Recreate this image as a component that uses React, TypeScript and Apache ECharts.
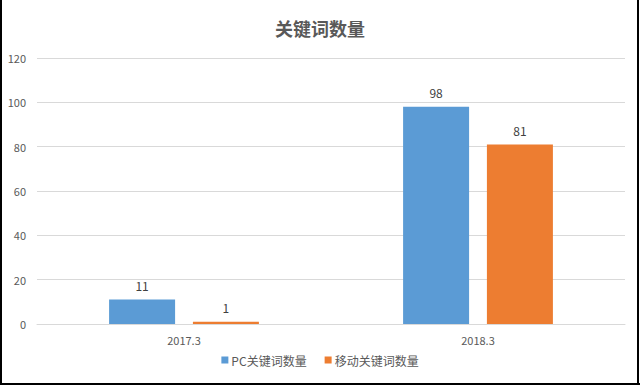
import React, { useEffect, useRef } from "react";
import * as echarts from "echarts";

const categories = ["2017.3", "2018.3"];
const pcValues = [11, 98];
const mobileValues = [1, 81];
const seriesNames = ["PC关键词数量", "移动关键词数量"];
const titleText = "关键词数量";

const FONT = "'Noto Sans CJK SC', 'Noto Sans', sans-serif";

export default function App() {
  const ref = useRef<HTMLDivElement>(null);
  useEffect(() => {
    if (!ref.current) return;
    const chart = echarts.init(ref.current, undefined, { renderer: "svg" });
    chart.setOption({
      animation: false,
      backgroundColor: "#ffffff",
      textStyle: { fontFamily: FONT },
      title: {
        text: titleText,
        left: "center",
        top: 14,
        textStyle: { fontSize: 18, fontWeight: "bold", color: "#595959", fontFamily: FONT },
      },
      legend: {
        data: seriesNames,
        bottom: 14,
        left: "center",
        itemWidth: 7,
        itemHeight: 7,
        itemGap: 18,
        icon: "rect",
        textStyle: { fontSize: 12, color: "#595959", fontFamily: FONT, padding: [0, 0, 0, -2] },
      },
      grid: { left: 37, right: 15, top: 58, bottom: 61 },
      xAxis: {
        type: "category",
        data: categories,
        axisLine: { lineStyle: { color: "#d9d9d9" } },
        axisTick: { show: false },
        axisLabel: { color: "#595959", fontSize: 11, margin: 10, fontFamily: FONT },
      },
      yAxis: {
        type: "value",
        min: 0,
        max: 120,
        interval: 20,
        axisLine: { show: false },
        axisTick: { show: false },
        splitLine: { lineStyle: { color: "#d9d9d9" } },
        axisLabel: { color: "#595959", fontSize: 11, margin: 11, fontFamily: FONT },
      },
      series: [
        {
          name: seriesNames[0],
          type: "bar",
          data: pcValues,
          barWidth: 66,
          barGap: "27%",
          itemStyle: { color: "#5B9BD5" },
          label: { show: true, position: "top", distance: 8, color: "#404040", fontSize: 12, fontFamily: FONT },
        },
        {
          name: seriesNames[1],
          type: "bar",
          data: mobileValues,
          barWidth: 66,
          barGap: "27%",
          itemStyle: { color: "#ED7D31" },
          label: { show: true, position: "top", distance: 8, color: "#404040", fontSize: 12, fontFamily: FONT },
        },
      ],
      graphic: [
        { type: "line", shape: { x1: 1, y1: 0, x2: 1, y2: 385 }, style: { stroke: "#000", lineWidth: 2 } },
        { type: "line", shape: { x1: 638, y1: 0, x2: 638, y2: 385 }, style: { stroke: "#000", lineWidth: 2 } },
        { type: "line", shape: { x1: 0, y1: 384, x2: 640, y2: 384 }, style: { stroke: "#000", lineWidth: 2 } },
      ],
    });
    return () => chart.dispose();
  }, []);
  return <div ref={ref} style={{ width: 640, height: 385, position: "absolute", left: 0, top: 0 }} />;
}
